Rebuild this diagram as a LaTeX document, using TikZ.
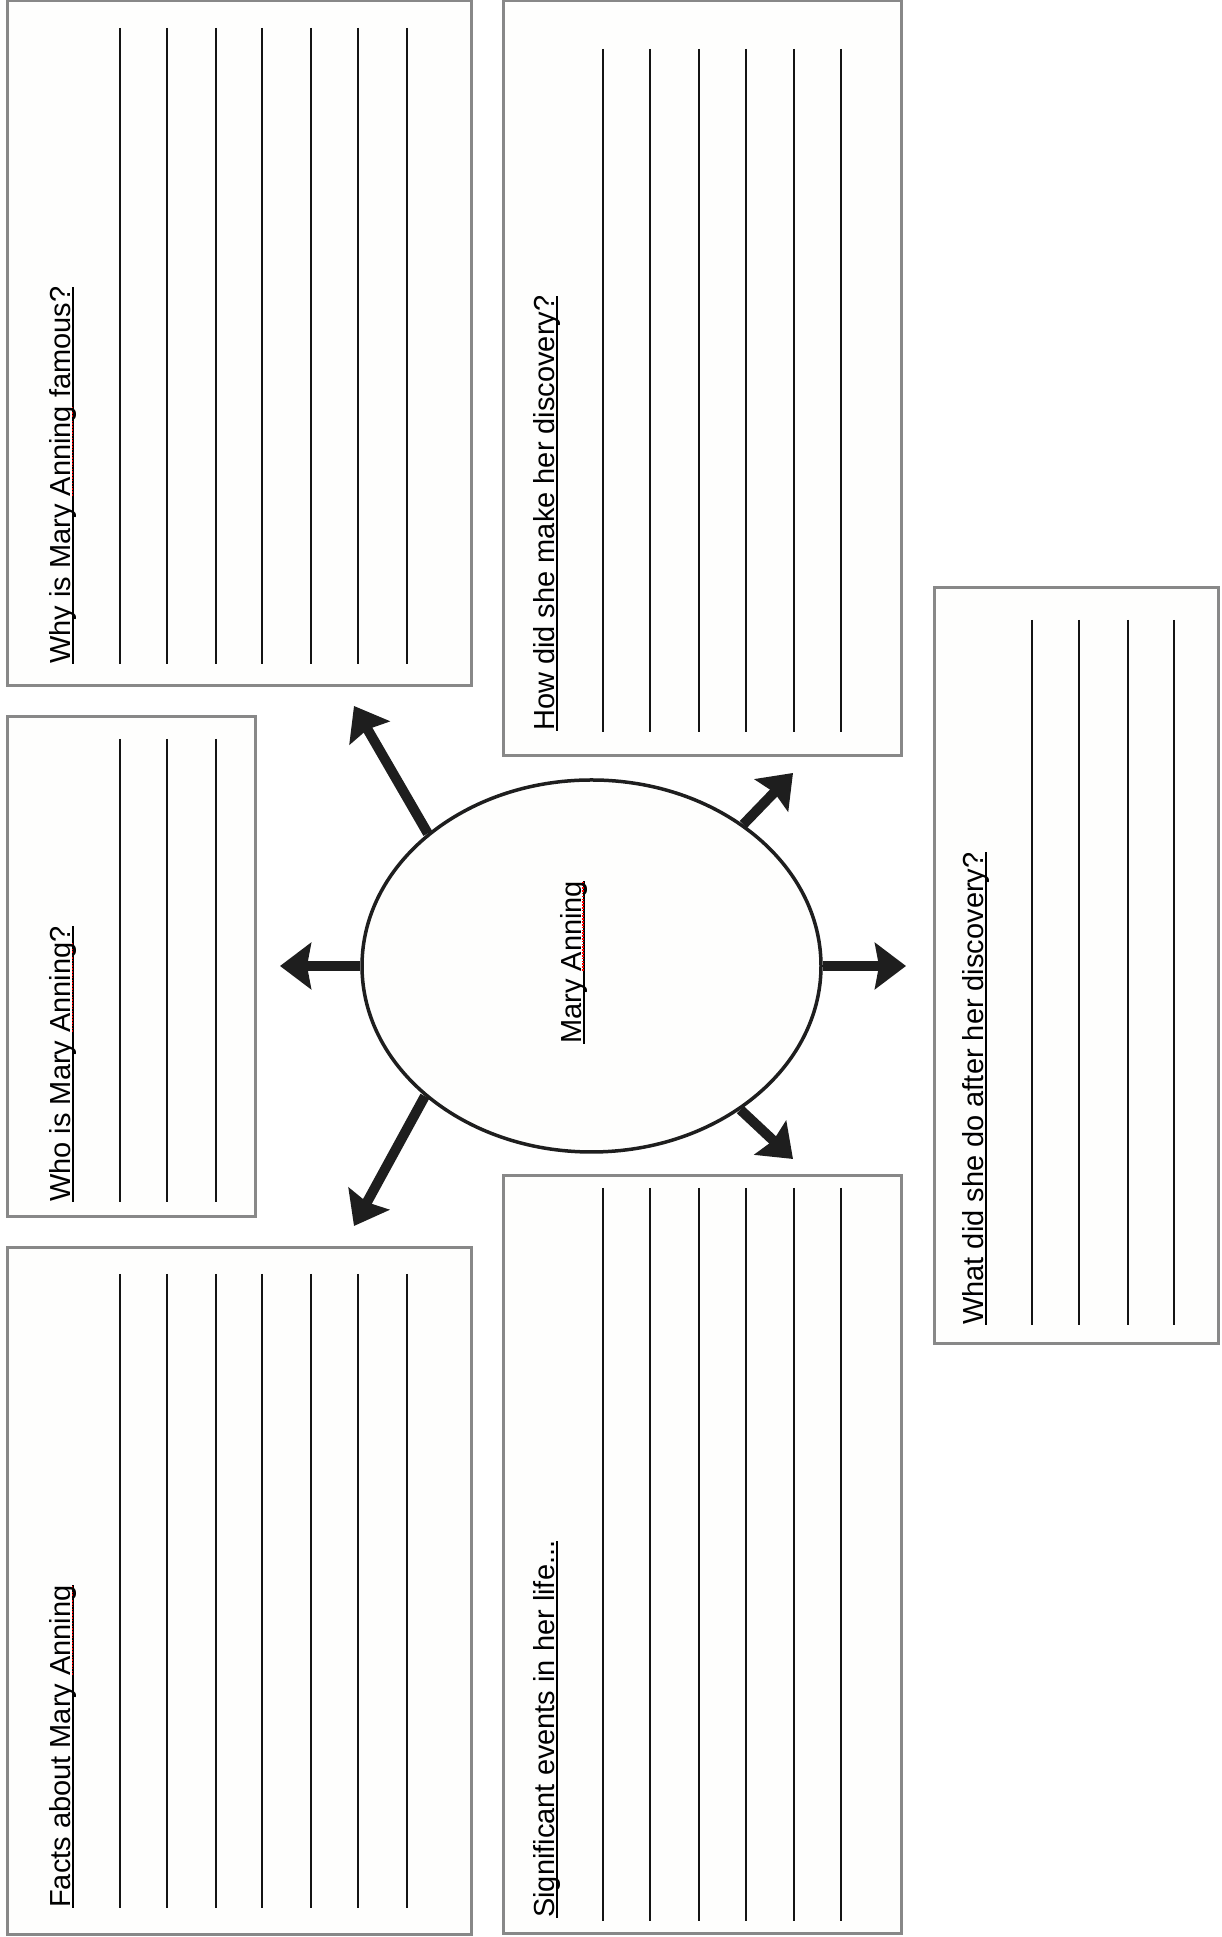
\documentclass[tikz,border=0pt]{standalone}
\usepackage{fontspec}
\setmainfont{Liberation Sans}
\usetikzlibrary{shapes.geometric,arrows.meta}
\definecolor{boxline}{HTML}{888888}
\definecolor{boxfill}{HTML}{FEFEFD}
\definecolor{ink}{HTML}{1E1E1E}
\newsavebox\ttlbox
\newsavebox\spbox
\newcommand\ttl[1]{\sbox\ttlbox{#1}\rlap{\smash{\rule[-3.4pt]{\wd\ttlbox}{1.8pt}}}\usebox\ttlbox}
\newcommand\spw[1]{\sbox\spbox{#1}\rlap{\smash{\color{red}\raisebox{-2.4pt}{\hbox to\wd\spbox{\xleaders\hbox to 2.8pt{\hss\rule{1.6pt}{1.6pt}\hss}\hfill}}}}\usebox\spbox}
\begin{document}
\begin{tikzpicture}[x=1pt,y=1pt,
  boxst/.style={draw=boxline, line width=3pt, fill=boxfill, inner sep=0pt, outer sep=0pt, anchor=south west},
  ttlst/.style={rotate=90, anchor=base west, inner sep=0pt, font=\fontsize{29}{34}\selectfont},
  rulest/.style={line width=2.2pt, draw=black!92},
  arr/.style={line width=10pt, draw=ink, -{Stealth[length=31pt,width=46pt,inset=4pt]}},
  ellst/.style={ellipse, draw=ink, line width=3.5pt, fill=boxfill, minimum width=459pt, minimum height=372pt, inner sep=0pt}]
\fill[white] (0,0) rectangle (1221,1937);
\useasboundingbox (0,0) rectangle (1221,1937);

% boxes
\node[boxst, minimum width=464pt, minimum height=685pt] (boxA) at (7,1251) {};
\node[boxst, minimum width=248pt, minimum height=500pt] (boxB) at (7,720) {};
\node[boxst, minimum width=464pt, minimum height=687pt] (boxC) at (7,2) {};
\node[boxst, minimum width=398pt, minimum height=755pt] (boxD) at (503,1181) {};
\node[boxst, minimum width=398pt, minimum height=758pt] (boxE) at (503,3) {};
\node[boxst, minimum width=284pt, minimum height=756pt] (boxF) at (934,593) {};

% writing lines
\foreach \x in {120,167,216,262,311,358,407} {
  \draw[rulest] (\x,1909) -- (\x,1273);
  \draw[rulest] (\x,663) -- (\x,29);
}
\foreach \x in {120,167,216} \draw[rulest] (\x,1198) -- (\x,735);
\foreach \x in {603,650,699,746,794,841} {
  \draw[rulest] (\x,1888) -- (\x,1205);
  \draw[rulest] (\x,749) -- (\x,16);
}
\foreach \x in {1032,1079,1128,1174} \draw[rulest] (\x,1317) -- (\x,612);

% titles
\node[ttlst] (tA) at (70.8,1273) {\ttl{Why is Mary \spw{Anning} famous?}};
\node[ttlst] (tB) at (70.8,735) {\ttl{Who is Mary \spw{Anning}?}};
\node[ttlst] (tC) at (70.8,29) {\ttl{Facts about Mary \spw{Anning}}};
\node[ttlst] (tD) at (554.5,1206) {\ttl{How did she make her discovery?}};
\node[ttlst] (tE) at (554.5,19) {\ttl{Significant events in her life...}};
\node[ttlst] (tF) at (983.5,612) {\ttl{What did she do after her discovery?}};

% centre
\node[ellst] (ell) at (591.5,971) {};
\node[ttlst] (tM) at (581.5,893) {\ttl{Mary \spw{Anning}}};

% arrows
\coordinate (sUL) at (ell.141.6);
\coordinate (sLL) at (ell.218.4);
\coordinate (sUR) at (ell.43.3);
\coordinate (sLR) at (ell.316.9);
\coordinate (sL) at (ell.180);
\coordinate (sR) at (ell.0);
\coordinate (eUL) at (354,1231);
\coordinate (eLL) at (354,711);
\coordinate (eUR) at (793,1164);
\coordinate (eLR) at (793,778);
\coordinate (eL) at (280,971);
\coordinate (eR) at (906,971);
\draw[arr] (sUL) -- (eUL);
\draw[arr] (sLL) -- (eLL);
\draw[arr] (sUR) -- (eUR);
\draw[arr] (sLR) -- (eLR);
\draw[arr] (sL) -- (eL);
\draw[arr] (sR) -- (eR);
\end{tikzpicture}
\end{document}
